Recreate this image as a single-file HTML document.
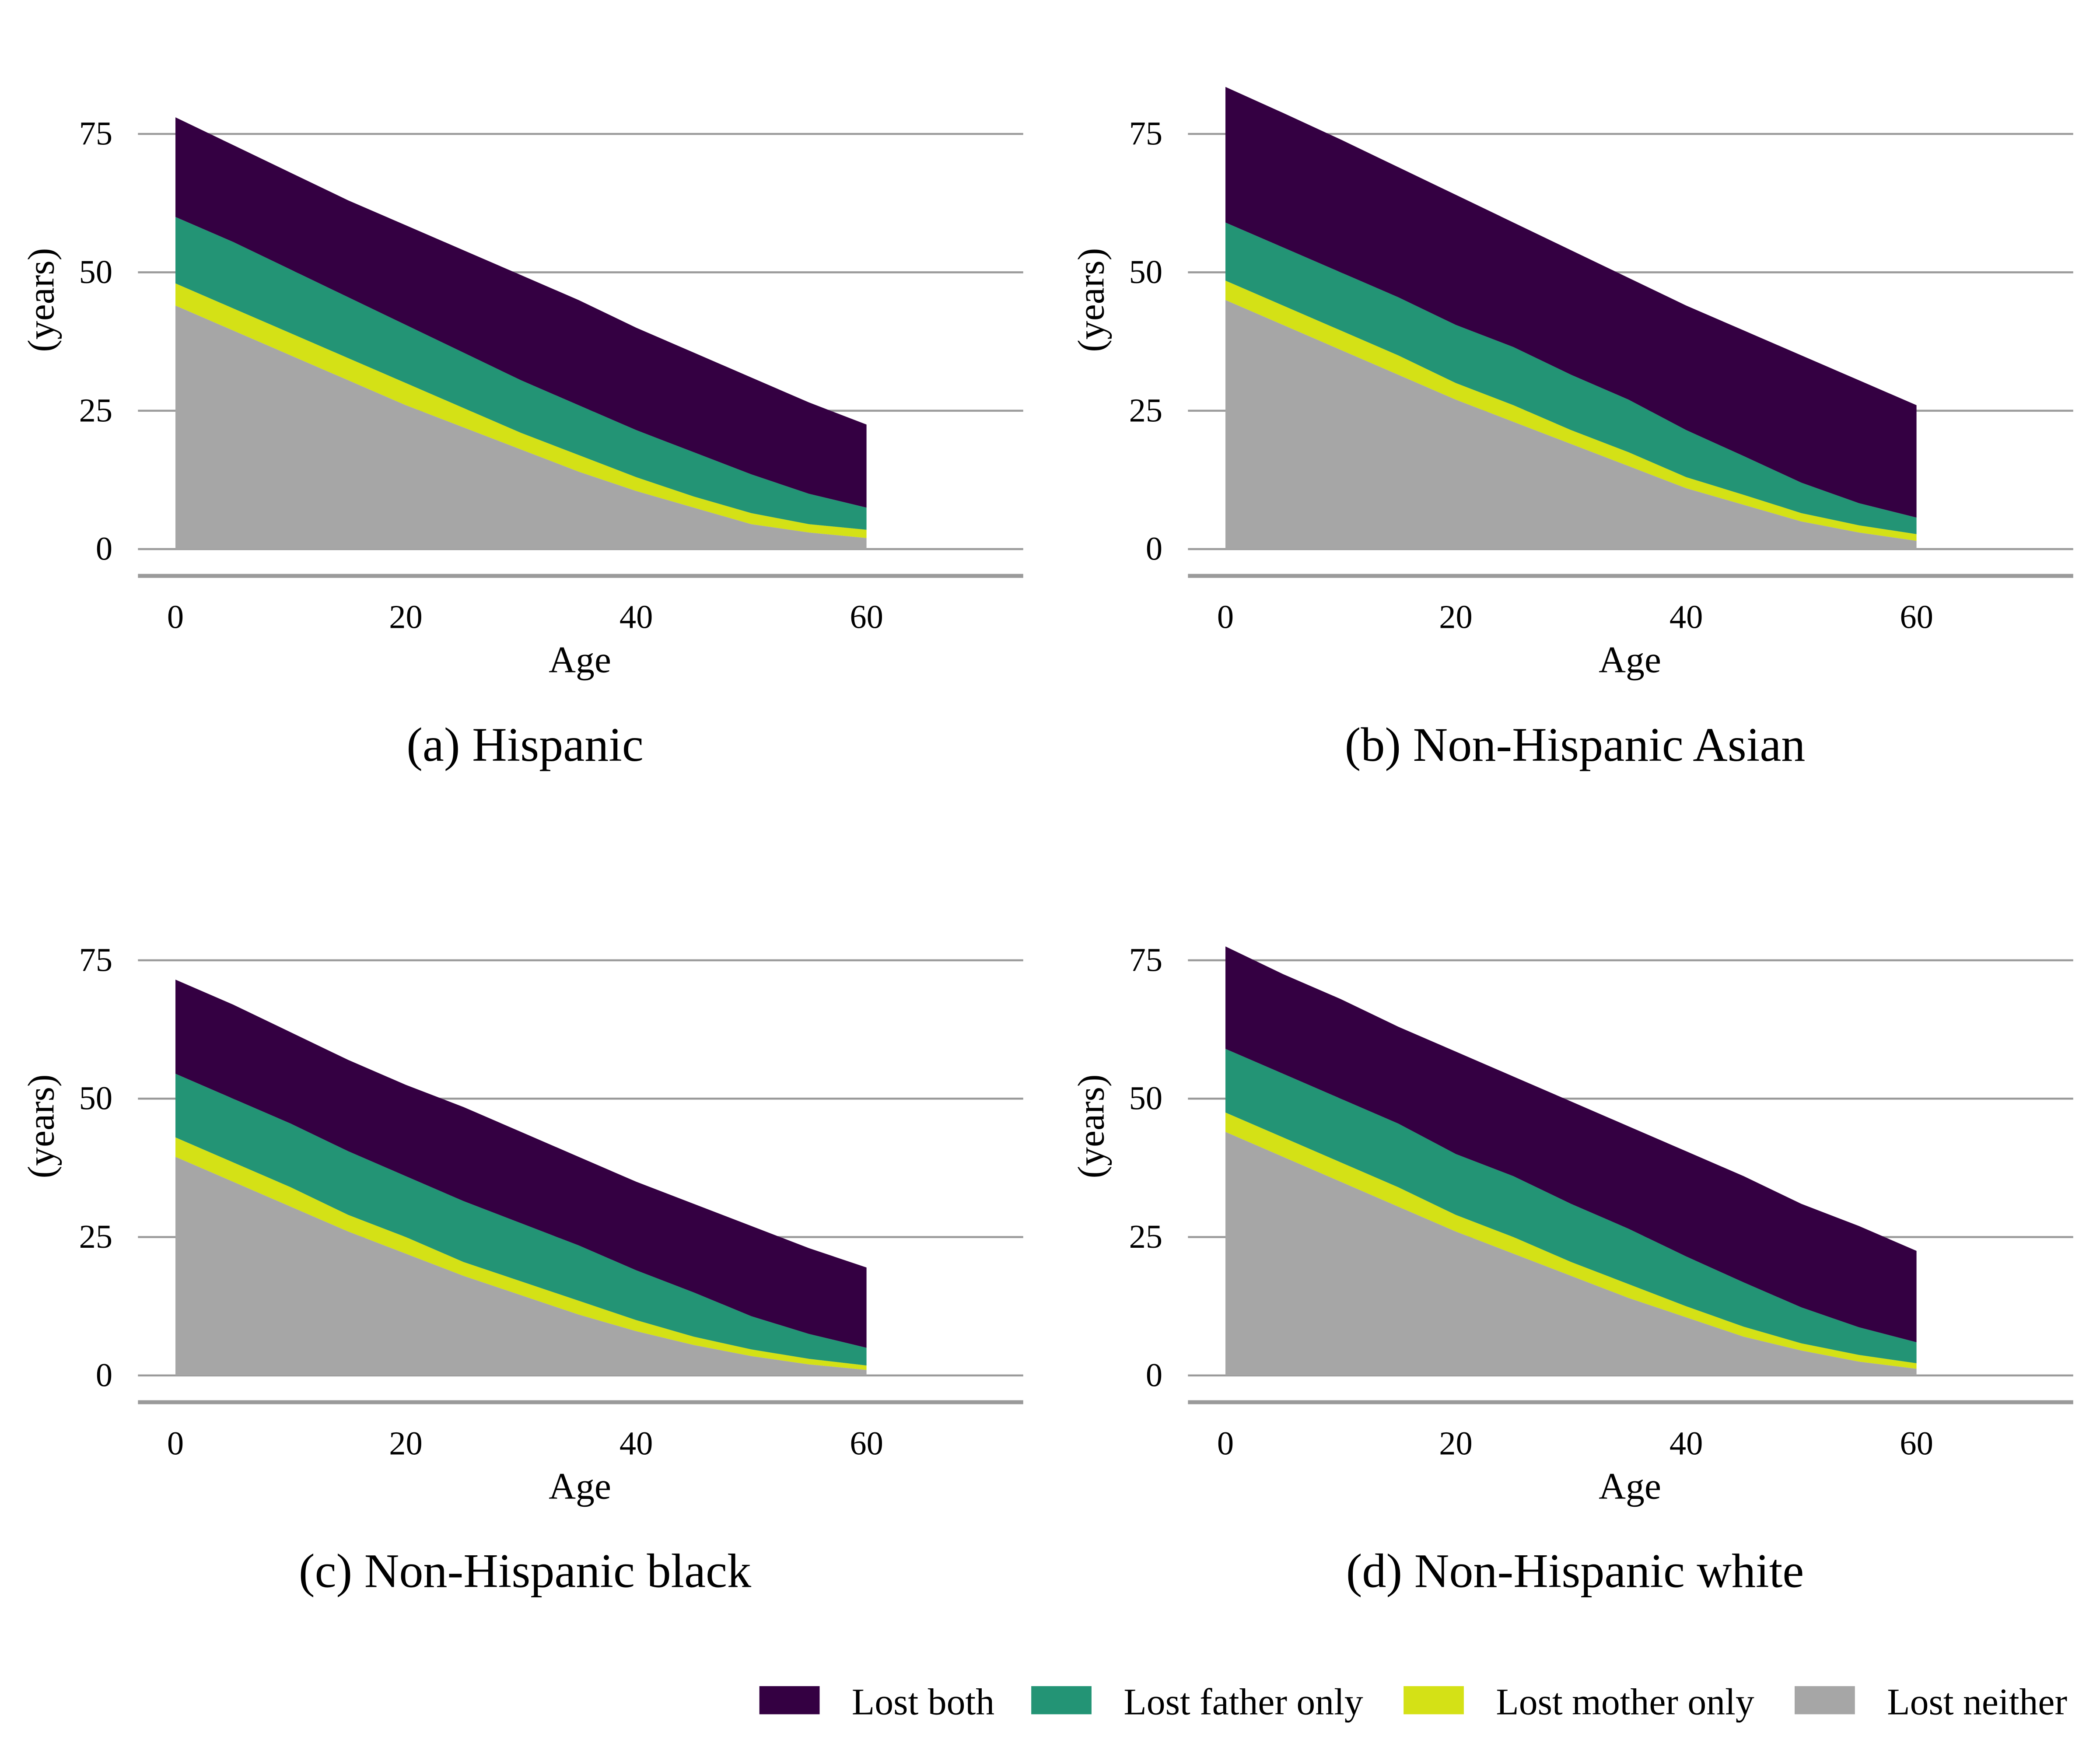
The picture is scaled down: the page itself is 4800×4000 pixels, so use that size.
<!DOCTYPE html>
<html><head><meta charset="utf-8"><style>
html,body{margin:0;padding:0;background:#fff;}
svg{display:block;}
text{font-family:"Liberation Serif",serif;fill:#000;}
</style></head><body>
<svg id="chart" width="4800" height="4000" viewBox="0 0 1568 1306.67" xmlns="http://www.w3.org/2000/svg"></svg>
<script>
const ages=[0,5,10,15,20,25,30,35,40,45,50,55,60];
const yTicks=[0,25,50,75];
const xTicks=[0,20,40,60];
const layerNames=["Lost neither","Lost mother only","Lost father only","Lost both"];
const colors=["#a6a6a6","#d4e116","#239475","#340042"];
const panelTitles=["(a) Hispanic","(b) Non-Hispanic Asian","(c) Non-Hispanic black","(d) Non-Hispanic white"];
const hispNeither=[44,39.5,35,30.5,26,22,18,14,10.5,7.5,4.5,3,2];
const hispMother=[4,4,4,4,4,3.5,3,3,2.5,2,2,1.5,1.5];
const hispFather=[12,12,11.5,11,10.5,10,9.5,9,8.5,8,7,5.5,4];
const hispBoth=[18,17.5,17.5,17.5,18,18.5,19,19,18.5,18,17.5,16.5,15];
const asianNeither=[45,40.5,36,31.5,27,23,19,15,11,8,5,3,1.5];
const asianMother=[3.5,3.5,3.5,3.5,3,3,2.5,2.5,2,1.8,1.5,1.3,1.2];
const asianFather=[10.5,10.5,10.5,10.5,10.5,10.5,10,9.5,8.5,7,5.5,4,3];
const asianBoth=[24.5,24.3,24,23.5,23.5,22.5,22.5,22,22.5,22.7,23,22.2,20.3];
const blackNeither=[39.5,35,30.5,26,22,18,14.5,11,8,5.5,3.5,2,1];
const blackMother=[3.5,3.5,3.5,3,3,2.5,2.5,2.5,2,1.5,1.2,1,0.8];
const blackFather=[11.5,11.5,11.5,11.5,11,11,10.5,10,9,8,6,4.5,3.2];
const blackBoth=[17,17,16.5,16.5,16.5,17,16.5,16,16,16,16.3,15.5,14.5];
const whiteNeither=[44,39.5,35,30.5,26,22,18,14,10.5,7,4.5,2.5,1.2];
const whiteMother=[3.5,3.5,3.5,3.5,3,3,2.5,2.5,2,1.8,1.3,1.2,1];
const whiteFather=[11.5,11.5,11.5,11.5,11,11,10.5,10,9,8,6.5,5,3.8];
const whiteBoth=[18.5,18,18,17.5,18.5,18,18.5,18.5,19,19.2,18.7,18.3,16.5];
const panels=[
 [hispNeither,hispMother,hispFather,hispBoth],
 [asianNeither,asianMother,asianFather,asianBoth],
 [blackNeither,blackMother,blackFather,blackBoth],
 [whiteNeither,whiteMother,whiteFather,whiteBoth]];

const NS="http://www.w3.org/2000/svg";
const svg=document.getElementById('chart');
function mk(tag,attrs,parent){const e=document.createElementNS(NS,tag);for(const k in attrs)e.setAttribute(k,attrs[k]);(parent||svg).appendChild(e);return e;}

panels.forEach((layers,pi)=>{
  const ox=(pi%2)*784, oy=Math.floor(pi/2)*617;
  const g=mk('g',{});
  
  
  const xs=a=>ox+131+a*(516/60);
  const ys=v=>oy+410-v*(310/75);
  yTicks.forEach(t=>{
    const l=mk('line',{x1:ox+103,x2:ox+764,y1:ys(t),y2:ys(t),stroke:'#9a9a9a','stroke-width':1.5},g);
    
    
    const tx=mk('text',{x:ox+84,y:ys(t)+8,'text-anchor':'end','font-size':25},g);
    tx.textContent=t;
    
    
  });
  let base=ages.map(()=>0);
  layers.forEach((vals,li)=>{
    const top=base.map((b,i)=>b+vals[i]);
    let d='M'+ages.map((a,i)=>xs(a)+','+ys(top[i])).join(' L');
    for(let i=ages.length-1;i>=0;i--) d+=' L'+xs(ages[i])+','+ys(base[i]);
    d+='Z';
    const p=mk('path',{d:d,fill:colors[li]},g);
    
    
    base=top;
  });
  const ax=mk('line',{x1:ox+103,x2:ox+764,y1:oy+430,y2:oy+430,stroke:'#9a9a9a','stroke-width':3},g);
  
  
  xTicks.forEach(t=>{
    const tx=mk('text',{x:xs(t),y:oy+469,'text-anchor':'middle','font-size':25},g);
    tx.textContent=t;
    
    
  });
  const xt=mk('text',{x:ox+433,y:oy+502,'text-anchor':'middle','font-size':28},g);
  xt.textContent='Age';
  
  
  const yt=mk('text',{x:0,y:0,'text-anchor':'middle','font-size':28,transform:'translate('+(ox+40)+','+(oy+224)+') rotate(-90)'},g);
  yt.textContent='(years)';
  
  
  const tt=mk('text',{x:ox+392,y:oy+568,'text-anchor':'middle','font-size':36},g);
  tt.textContent=panelTitles[pi];
  
  
});

const legendX=[567,770,1048,1340];
const legendOrder=[3,2,1,0];
legendOrder.forEach((li,k)=>{
  const g=mk('g',{});
  
  
  mk('rect',{x:legendX[k],y:1259,width:45,height:21,fill:colors[li]},g);
  const t=mk('text',{x:legendX[k]+69,y:1280,'font-size':28},g);
  t.textContent=layerNames[li];
});
</script>
</body></html>
